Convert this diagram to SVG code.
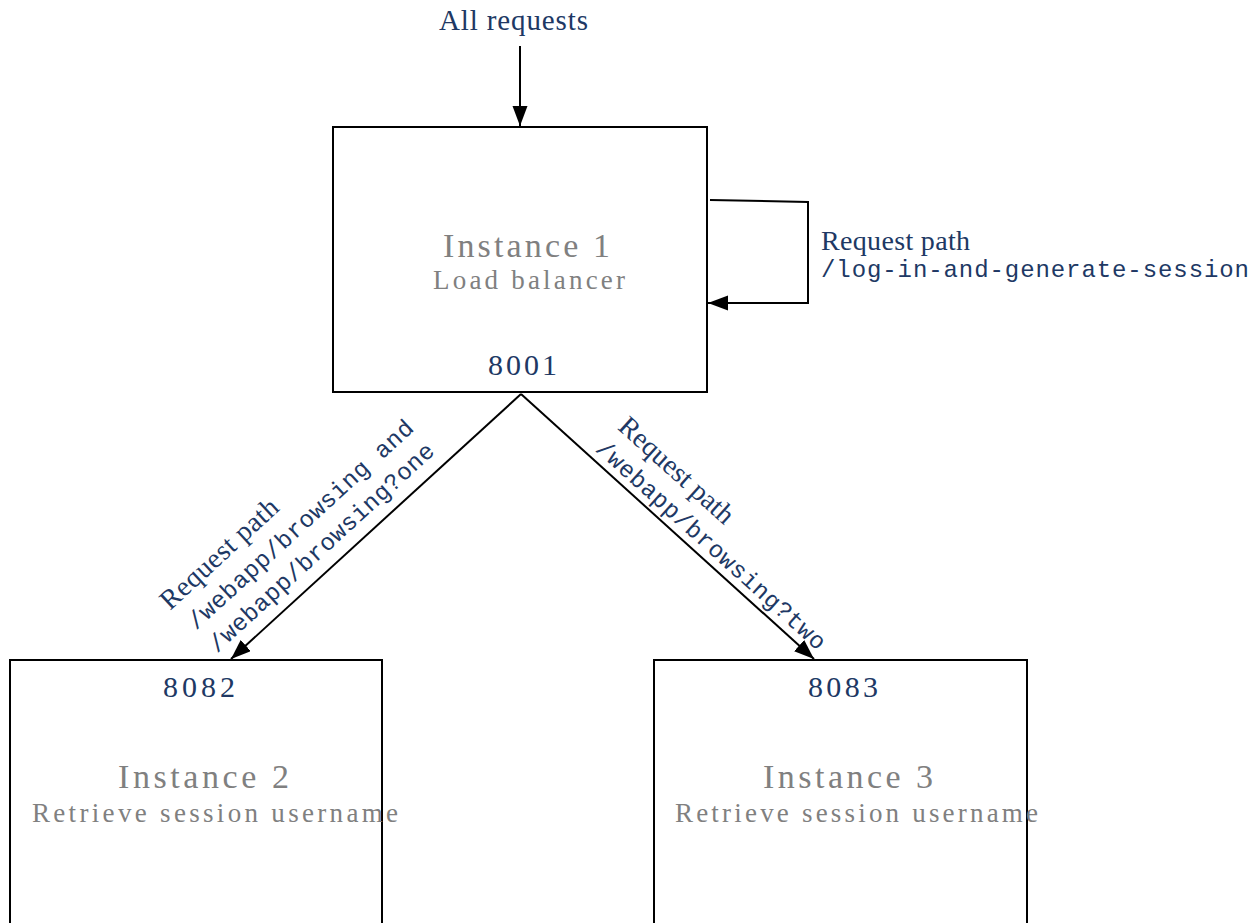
<svg xmlns="http://www.w3.org/2000/svg" width="1260" height="923" viewBox="0 0 1260 923">
<defs>
<style>
.box{fill:#fff;stroke:#000;stroke-width:2}
.ln{fill:none;stroke:#000;stroke-width:2}
.serif{font-family:"Liberation Serif","Times New Roman",serif}
.mono{font-family:"Liberation Mono","Courier New",monospace;font-size:24px;fill:#203864}
.navy{fill:#203864}
.gray{fill:#808080}
</style>
<marker id="ah" markerUnits="userSpaceOnUse" markerWidth="22" markerHeight="16" refX="20" refY="7.5" orient="auto">
<path d="M0,0 L20,7.5 L0,15 z" fill="#000"/>
</marker>
</defs>
<rect width="1260" height="923" fill="#fff"/>

<g id="connectors">
<line class="ln" x1="520" y1="46" x2="520" y2="126" marker-end="url(#ah)"/>
<polyline class="ln" points="710,200 808,202 808,303 708,303" marker-end="url(#ah)"/>
<line class="ln" x1="521" y1="394" x2="231" y2="659" marker-end="url(#ah)"/>
<line class="ln" x1="521" y1="394" x2="814" y2="659" marker-end="url(#ah)"/>
</g>

<g id="label-all">
<text class="serif navy" x="439" y="30" font-size="29" textLength="149" lengthAdjust="spacing">All requests</text>
</g>

<g id="instance1">
<rect class="box" x="333" y="127" width="374" height="265"/>
<text class="serif gray" x="443" y="257" font-size="34" textLength="167" lengthAdjust="spacing">Instance 1</text>
<text class="serif gray" x="433" y="289" font-size="27" textLength="192" lengthAdjust="spacing">Load balancer</text>
<text class="serif navy" x="488" y="375" font-size="30" textLength="69" lengthAdjust="spacing">8001</text>
</g>

<g id="instance2">
<rect class="box" x="10" y="660" width="372" height="275"/>
<text class="serif navy" x="163" y="697" font-size="30" textLength="72" lengthAdjust="spacing">8082</text>
<text class="serif gray" x="118" y="788" font-size="34" textLength="171" lengthAdjust="spacing">Instance 2</text>
<text class="serif gray" x="32" y="822" font-size="27" textLength="366" lengthAdjust="spacing">Retrieve session username</text>
</g>

<g id="instance3">
<rect class="box" x="654" y="660" width="373" height="275"/>
<text class="serif navy" x="808" y="697" font-size="30" textLength="70" lengthAdjust="spacing">8083</text>
<text class="serif gray" x="763" y="788" font-size="34" textLength="170" lengthAdjust="spacing">Instance 3</text>
<text class="serif gray" x="675" y="822" font-size="27" textLength="363" lengthAdjust="spacing">Retrieve session username</text>
</g>

<g id="label-loop">
<text class="serif navy" x="821" y="250" font-size="28" textLength="149" lengthAdjust="spacing">Request path</text>
<text class="mono" x="821" y="277" textLength="428" lengthAdjust="spacing">/log-in-and-generate-session</text>
</g>

<g id="label-left" transform="translate(170,611) rotate(-42.5)">
<text class="serif navy" x="0" y="0" font-size="28" textLength="150" lengthAdjust="spacing">Request path</text>
<text class="mono" x="6" y="32" textLength="297" lengthAdjust="spacing">/webapp/browsing and</text>
<text class="mono" x="6" y="63" textLength="297" lengthAdjust="spacing">/webapp/browsing?one</text>
</g>

<g id="label-right" transform="translate(520,394) rotate(42)">
<text class="serif navy" x="95" y="-39" font-size="28" textLength="145" lengthAdjust="spacing">Request path</text>
<text class="mono" x="93" y="-8" textLength="300" lengthAdjust="spacing">/webapp/browsing?two</text>
</g>
</svg>
